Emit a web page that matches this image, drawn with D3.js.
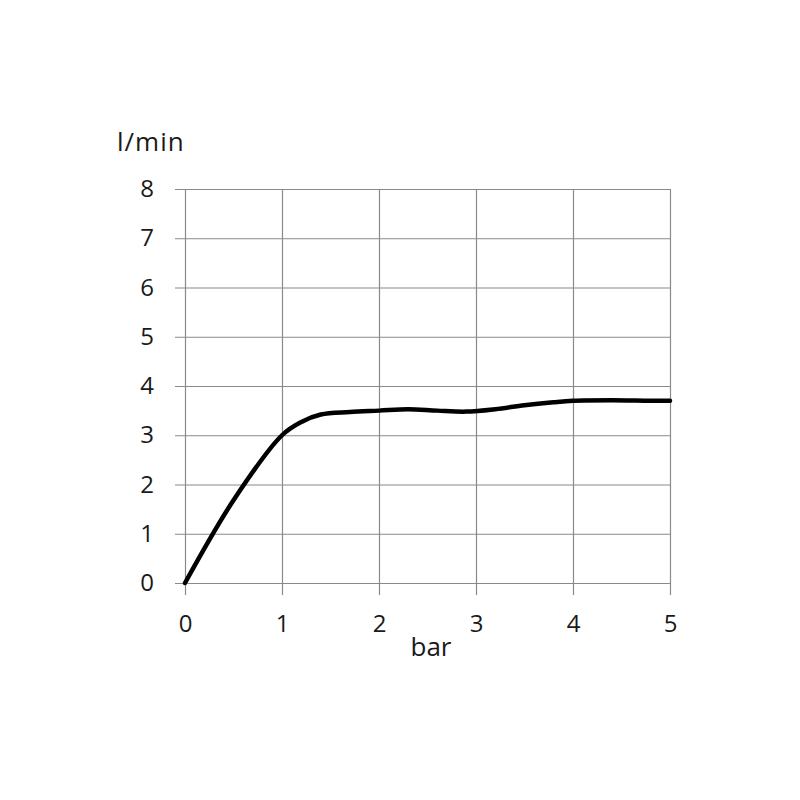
<!DOCTYPE html>
<meta charset="utf-8">
<style>
  body { margin: 0; background: #fff; }
  .grid line { stroke: #8a8a8a; stroke-width: 1.2px; }
  .grid path { display: none; }
  .tick text { font-family: "Open Sans", sans-serif; font-size: 24px; fill: #1a1a1a; }
  .line { fill: none; stroke: #000; stroke-width: 4.5px; stroke-linejoin: round; stroke-linecap: round; }
  .label { font-family: "Open Sans", sans-serif; font-size: 26px; fill: #1a1a1a; }
</style>
<svg width="800" height="800"></svg>
<script src="https://d3js.org/d3.v7.min.js"></script>
<script>
  // Flow curve
  var pressure = [0, 0.5, 1.0, 1.2, 1.4, 1.7, 2.0, 2.3, 2.6, 2.9, 3.2, 3.5, 3.8, 4.0, 4.4, 4.8, 5.0];
  var flow = [0, 1.68, 3.0, 3.27, 3.42, 3.47, 3.5, 3.53, 3.5, 3.48, 3.53, 3.61, 3.67, 3.7, 3.71, 3.7, 3.7];
  var xTicks = [0, 1, 2, 3, 4, 5];
  var yTicks = [0, 1, 2, 3, 4, 5, 6, 7, 8];

  var svg = d3.select("svg");
  var plotLeft = 185, plotRight = 670, plotTop = 189, plotBottom = 583;

  var x = d3.scaleLinear().domain([0, 5]).range([plotLeft, plotRight]);
  var y = d3.scaleLinear().domain([0, 8]).range([plotBottom, plotTop]);

  // vertical grid lines with tick stubs below
  svg.append("g")
    .attr("class", "grid")
    .attr("transform", "translate(0," + plotTop + ")")
    .call(d3.axisBottom(x).tickValues(xTicks)
      .tickSize(plotBottom - plotTop + 12).tickPadding(20).tickFormat(d3.format("d")));

  // horizontal grid lines with tick stubs to the left
  svg.append("g")
    .attr("class", "grid")
    .attr("transform", "translate(" + plotRight + ",0)")
    .call(d3.axisLeft(y).tickValues(yTicks)
      .tickSize(plotRight - plotLeft + 10).tickPadding(21).tickFormat(d3.format("d")));

  var data = pressure.map(function (p, i) { return { p: p, f: flow[i] }; });

  var line = d3.line()
    .x(function (d) { return x(d.p); })
    .y(function (d) { return y(d.f); })
    .curve(d3.curveCatmullRom.alpha(0.5));

  svg.append("path")
    .datum(data)
    .attr("class", "line")
    .attr("d", line);

  svg.append("text")
    .attr("class", "label")
    .attr("x", 117)
    .attr("y", 151)
    .attr("letter-spacing", "1px")
    .text("l/min");

  svg.append("text")
    .attr("class", "label")
    .attr("x", 431)
    .attr("y", 656)
    .attr("text-anchor", "middle")
    .text("bar");
</script>
